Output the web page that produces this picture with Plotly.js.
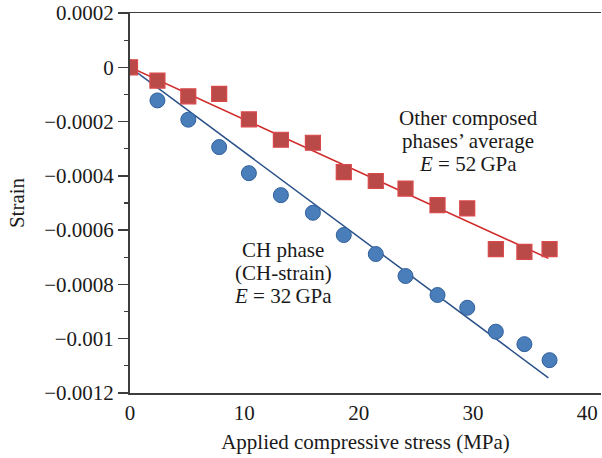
<!DOCTYPE html>
<html>
<head>
<meta charset="utf-8">
<script src="https://cdn.plot.ly/plotly-3.0.1.min.js"></script>
<style>html,body{margin:0;padding:0;background:#fff;}#chart{width:602px;height:458px;}</style>
</head>
<body>
<div id="chart"></div>
<script>
// Applied compressive stress (MPa)
const stressCH = [0, 2.4, 5.1, 7.8, 10.4, 13.2, 16.0, 18.7, 21.5, 24.1, 26.9, 29.5, 32.0, 34.5, 36.7];
const strainCH = [0, -0.000122, -0.000193, -0.000294, -0.000390, -0.000471, -0.000536, -0.000618, -0.000688, -0.000769, -0.000839, -0.000886, -0.000974, -0.00102, -0.001079];
const stressOther = [0, 2.4, 5.1, 7.8, 10.4, 13.2, 16.0, 18.7, 21.5, 24.1, 26.9, 29.5, 32.0, 34.5, 36.7];
const strainOther = [0, -0.000049, -0.000107, -0.000098, -0.000192, -0.000267, -0.000278, -0.000386, -0.000419, -0.000447, -0.000508, -0.00052, -0.00067, -0.00068, -0.00067];
// Linear fits
const fitStress = [0, 36.6];
const fitCH = [0, -0.001144];
const fitOther = [0, -0.000704];
// Axis ticks
const yTickVals = [0.0002, 0, -0.0002, -0.0004, -0.0006, -0.0008, -0.001, -0.0012];
const yTickText = ["0.0002", "0", "\u22120.0002", "\u22120.0004", "\u22120.0006", "\u22120.0008", "\u22120.001", "\u22120.0012"];
const xTickVals = [0, 10, 20, 30, 40];
// Annotation text lines
const otherLabel = ["Other composed", "phases\u2019 average", "<i>E</i> = 52\u2009GPa"];
const chLabel = ["CH phase", "(CH-strain)", "<i>E</i> = 32\u2009GPa"];

const FONT = "Liberation Serif, Times New Roman, serif";
const FS = 21;
const AX = "#3d3d3d";

const traces = [
  {x: fitStress, y: fitCH, mode: "lines", line: {color: "#2a5089", width: 1.5}, showlegend: false, hoverinfo: "skip"},
  {x: fitStress, y: fitOther, mode: "lines", line: {color: "#d02a2a", width: 1.5}, showlegend: false, hoverinfo: "skip"},
  {x: stressCH, y: strainCH, mode: "markers", marker: {symbol: "circle", size: 15, color: "#4a7ebb", line: {color: "#2f5f9a", width: 1}}, showlegend: false},
  {x: stressOther, y: strainOther, mode: "markers", marker: {symbol: "square", size: 15, color: "#b94a48", line: {color: "#d9484a", width: 1.2}}, showlegend: false}
];

const otherY = [-0.0001885, -0.000273, -0.000356];
const chY = [-0.000674, -0.000758, -0.000843];
const annotations = [];
otherLabel.forEach((t, i) => annotations.push({xref: "x", yref: "y", x: 29.6, y: otherY[i], showarrow: false, text: t, font: {family: FONT, size: FS, color: "#1a1a1a"}}));
chLabel.forEach((t, i) => annotations.push({xref: "x", yref: "y", x: 13.4, y: chY[i], showarrow: false, text: t, font: {family: FONT, size: FS, color: "#1a1a1a"}}));

const layout = {
  width: 602, height: 458,
  margin: {l: 130, r: 1, t: 13, b: 65},
  paper_bgcolor: "#fff", plot_bgcolor: "#fff",
  font: {family: FONT, size: FS, color: "#1a1a1a"},
  showlegend: false,
  xaxis: {
    range: [0, 41.2], showgrid: false, zeroline: false,
    showline: true, mirror: true, linecolor: AX, linewidth: 1.5,
    ticks: "", tickvals: xTickVals, ticktext: xTickVals.map(String),
    tickfont: {family: FONT, size: FS},
    title: {text: "Applied compressive stress (MPa)", font: {family: FONT, size: FS}, standoff: 10}
  },
  xaxis2: {
    overlaying: "x", anchor: "free", position: 0.857142857, side: "top",
    range: [0, 41.2], showgrid: false, zeroline: false,
    showline: true, linecolor: AX, linewidth: 1.5,
    ticks: "outside", ticklen: 5, tickwidth: 1.5, tickcolor: AX,
    tickvals: [10, 20, 30, 40], showticklabels: false,
    minor: {dtick: 2, tick0: 0, ticks: "outside", ticklen: 5, tickwidth: 1.2, tickcolor: AX}
  },
  xaxis3: {
    overlaying: "x", anchor: "free", position: 0.857142857, side: "bottom",
    range: [0, 41.2], showgrid: false, zeroline: false, showline: false,
    ticks: "outside", ticklen: 4, tickwidth: 1.5, tickcolor: AX,
    tickvals: [10, 20, 30, 40], showticklabels: false
  },
  yaxis: {
    range: [-0.0012, 0.0002], showgrid: false, zeroline: false,
    showline: true, linecolor: AX, linewidth: 2,
    ticks: "outside", ticklen: 10, tickwidth: 1.5, tickcolor: AX,
    tickvals: yTickVals, ticktext: yTickText,
    tickfont: {family: FONT, size: FS},
    minor: {dtick: 0.0001, tick0: 0, ticks: "outside", ticklen: 4, tickwidth: 1.2, tickcolor: AX},
    title: {text: "Strain", font: {family: FONT, size: FS}, standoff: 14}
  },
  annotations: annotations
};

Plotly.newPlot("chart", traces, layout, {displayModeBar: false, staticPlot: true});
</script>
</body>
</html>
